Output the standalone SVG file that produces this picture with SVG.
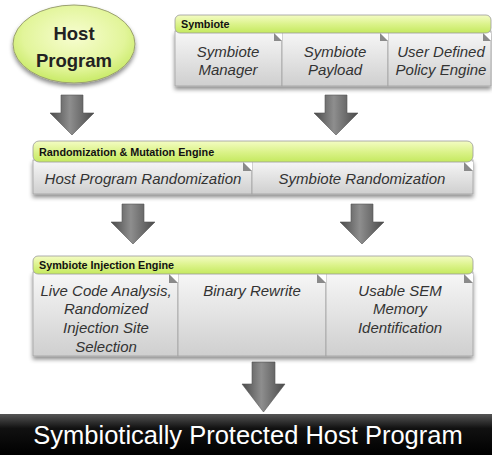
<svg xmlns="http://www.w3.org/2000/svg" width="492" height="455" viewBox="0 0 492 455">
<defs>
<linearGradient id="gHead" x1="0" y1="0" x2="0" y2="1">
<stop offset="0" stop-color="#f4fcc4"/>
<stop offset="0.5" stop-color="#dcf38c"/>
<stop offset="1" stop-color="#c4e95e"/>
</linearGradient>
<linearGradient id="gBody" x1="0" y1="0" x2="0" y2="1">
<stop offset="0" stop-color="#f7f7f7"/>
<stop offset="1" stop-color="#cfcfcf"/>
</linearGradient>
<radialGradient id="gEll" cx="0.5" cy="0.4" r="0.6">
<stop offset="0" stop-color="#f7fdd0"/>
<stop offset="0.7" stop-color="#e2f59a"/>
<stop offset="1" stop-color="#c8ea66"/>
</radialGradient>
<linearGradient id="gArrow" x1="0" y1="0" x2="1" y2="0">
<stop offset="0" stop-color="#4a4a4a"/>
<stop offset="0.45" stop-color="#8e8e8e"/>
<stop offset="1" stop-color="#4a4a4a"/>
</linearGradient>
<linearGradient id="gBar" x1="0" y1="0" x2="0" y2="1">
<stop offset="0" stop-color="#555"/>
<stop offset="0.35" stop-color="#111"/>
<stop offset="1" stop-color="#000"/>
</linearGradient>
<filter id="sh" x="-10%" y="-10%" width="120%" height="140%">
<feDropShadow dx="0" dy="3" stdDeviation="2" flood-color="#000" flood-opacity="0.45"/>
</filter>
<path id="arr" d="M-11,0 H11 V18 H22 L0,40 L-22,18 H-11 Z"/>
</defs>
<style>
.head{fill:url(#gHead);stroke:#9a9a9a;stroke-width:0.8}
.body{fill:url(#gBody);stroke:#a0a0a0;stroke-width:0.8}
.fold{fill:#8a8a8a}
.cut{fill:#ffffff}
.ht{font-family:"Liberation Sans",Arial,sans-serif;font-weight:bold;font-size:10.8px;fill:#111}
.bt{font-family:"Liberation Sans",Arial,sans-serif;font-style:italic;font-size:15px;fill:#333;text-anchor:middle}
.arrow{fill:url(#gArrow);stroke:#555;stroke-width:0.6}
</style>
<rect width="492" height="455" fill="#ffffff"/>

<g id="connectors">
<use href="#arr" class="arrow" transform="translate(72,95)"/>
<use href="#arr" class="arrow" transform="translate(336,95)"/>
<use href="#arr" class="arrow" transform="translate(133,204)"/>
<use href="#arr" class="arrow" transform="translate(362,204)"/>
<path class="arrow" d="M252,362 H275 V384 H285 L263.5,412 L242,384 H252 Z"/>
</g>

<g id="host-program">
<ellipse cx="74" cy="44" rx="61" ry="39" fill="url(#gEll)" stroke="#9aa070" stroke-width="1" filter="url(#sh)"/>
<text x="74" y="40" font-family="'Liberation Sans',Arial,sans-serif" font-weight="bold" font-size="18.5" fill="#222" text-anchor="middle">Host</text>
<text x="74" y="67" font-family="'Liberation Sans',Arial,sans-serif" font-weight="bold" font-size="18.5" fill="#222" text-anchor="middle">Program</text>
</g>

<g id="symbiote">
<g filter="url(#sh)">
<rect class="body" x="175" y="31" width="107" height="55"/>
<rect class="body" x="282" y="31" width="106" height="55"/>
<rect class="body" x="388" y="31" width="103" height="55"/>
</g>
<path class="cut" d="M274,33 H282 V41 Z"/><path class="fold" d="M274,33 L282,41 H274 Z"/>
<path class="cut" d="M380,33 H388 V41 Z"/><path class="fold" d="M380,33 L388,41 H380 Z"/>
<path class="cut" d="M483,33 H491 V41 Z"/><path class="fold" d="M483,33 L491,41 H483 Z"/>
<rect class="head" x="175" y="15" width="316" height="18" rx="5"/>
<text class="ht" x="181" y="28">Symbiote</text>
<text class="bt" x="228" y="57">Symbiote</text>
<text class="bt" x="228" y="75">Manager</text>
<text class="bt" x="335" y="57">Symbiote</text>
<text class="bt" x="335" y="75">Payload</text>
<text class="bt" x="441" y="57">User Defined</text>
<text class="bt" x="441" y="75">Policy Engine</text>
</g>

<g id="randomization-mutation-engine">
<g filter="url(#sh)">
<rect class="body" x="33" y="160" width="219" height="34"/>
<rect class="body" x="252" y="160" width="221" height="34"/>
</g>
<path class="cut" d="M243,162 H252 V171 Z"/><path class="fold" d="M243,162 L252,171 H243 Z"/>
<path class="cut" d="M464,162 H473 V171 Z"/><path class="fold" d="M464,162 L473,171 H464 Z"/>
<rect class="head" x="33" y="141" width="440" height="21" rx="6"/>
<text class="ht" x="39" y="155.5">Randomization &amp; Mutation Engine</text>
<text class="bt" x="143" y="184">Host Program Randomization</text>
<text class="bt" x="362" y="184">Symbiote Randomization</text>
</g>

<g id="symbiote-injection-engine">
<g filter="url(#sh)">
<rect class="body" x="33" y="272" width="145" height="84"/>
<rect class="body" x="178" y="272" width="148" height="84"/>
<rect class="body" x="326" y="272" width="147" height="84"/>
</g>
<path class="cut" d="M169,274 H178 V283 Z"/><path class="fold" d="M169,274 L178,283 H169 Z"/>
<path class="cut" d="M317,274 H326 V283 Z"/><path class="fold" d="M317,274 L326,283 H317 Z"/>
<path class="cut" d="M464,274 H473 V283 Z"/><path class="fold" d="M464,274 L473,283 H464 Z"/>
<rect class="head" x="33" y="256" width="440" height="18" rx="5"/>
<text class="ht" x="39" y="269">Symbiote Injection Engine</text>
<text class="bt" x="106" y="296">Live Code Analysis,</text>
<text class="bt" x="106" y="314">Randomized</text>
<text class="bt" x="106" y="333">Injection Site</text>
<text class="bt" x="106" y="352">Selection</text>
<text class="bt" x="252" y="296">Binary Rewrite</text>
<text class="bt" x="400" y="296">Usable SEM</text>
<text class="bt" x="400" y="314">Memory</text>
<text class="bt" x="400" y="333">Identification</text>
</g>

<g id="protected-host-program">
<rect x="0" y="414" width="492" height="41" fill="url(#gBar)"/>
<text x="248" y="444" font-family="'Liberation Sans',Arial,sans-serif" font-size="25.5" fill="#ffffff" text-anchor="middle">Symbiotically Protected Host Program</text>
</g>
</svg>
